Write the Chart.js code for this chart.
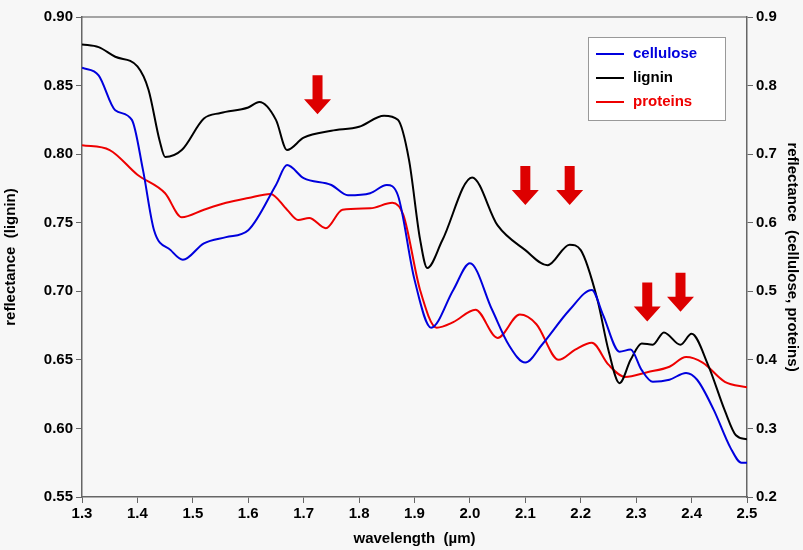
<!DOCTYPE html>
<html>
<head>
<meta charset="utf-8">
<script src="https://cdn.jsdelivr.net/npm/chart.js@4"></script>
<style>
  html, body { margin: 0; padding: 0; background: #fff; }
  #wrap { width: 803px; height: 550px; }
</style>
</head>
<body>
<div id="wrap"><canvas id="chart"></canvas></div>
<script>
// lignin on the left axis, cellulose + proteins on the right axis
const ligninX = [1.30,1.33,1.36,1.40,1.42,1.44,1.45,1.48,1.52,1.55,1.60,1.62,1.65,1.67,1.70,1.75,1.80,1.845,1.87,1.89,1.91,1.923,1.95,2.004,2.05,2.10,2.14,2.18,2.20,2.23,2.25,2.27,2.29,2.31,2.33,2.35,2.38,2.40,2.43,2.46,2.48,2.50];
const ligninY = [0.880,0.878,0.871,0.864,0.847,0.810,0.798,0.803,0.826,0.830,0.834,0.838,0.825,0.803,0.812,0.817,0.820,0.828,0.825,0.796,0.738,0.717,0.737,0.783,0.748,0.730,0.719,0.734,0.730,0.694,0.657,0.633,0.650,0.662,0.661,0.670,0.661,0.669,0.646,0.613,0.595,0.592];

const celluloseX = [1.30,1.33,1.36,1.39,1.41,1.43,1.46,1.482,1.52,1.56,1.60,1.65,1.67,1.70,1.75,1.78,1.82,1.85,1.87,1.90,1.93,1.97,2.00,2.04,2.07,2.10,2.13,2.18,2.22,2.24,2.27,2.29,2.31,2.33,2.36,2.39,2.41,2.44,2.47,2.49,2.50];
const celluloseY = [0.826,0.815,0.764,0.750,0.677,0.589,0.560,0.546,0.570,0.579,0.589,0.655,0.684,0.665,0.655,0.640,0.643,0.655,0.640,0.517,0.447,0.502,0.541,0.473,0.422,0.396,0.422,0.473,0.502,0.466,0.412,0.415,0.385,0.368,0.371,0.381,0.371,0.327,0.272,0.250,0.250];

const proteinsX = [1.30,1.35,1.40,1.45,1.48,1.52,1.56,1.60,1.64,1.67,1.69,1.71,1.74,1.77,1.82,1.86,1.88,1.91,1.94,1.97,2.01,2.05,2.09,2.12,2.16,2.19,2.22,2.25,2.28,2.32,2.36,2.39,2.42,2.46,2.50];
const proteinsY = [0.713,0.706,0.670,0.643,0.608,0.619,0.629,0.636,0.642,0.619,0.604,0.607,0.592,0.619,0.621,0.629,0.611,0.502,0.447,0.455,0.473,0.432,0.466,0.452,0.400,0.415,0.425,0.393,0.375,0.382,0.390,0.404,0.396,0.368,0.360];

// red arrows: wavelength and tip height (lignin axis units)
const arrowX = [1.725, 2.10, 2.18, 2.32, 2.38];
const arrowY = [0.829, 0.763, 0.763, 0.678, 0.685];

const seriesNames = ['cellulose', 'lignin', 'proteins'];
const seriesColors = ['#0000dd', '#000000', '#ee0000'];

const pts = (xs, ys) => xs.map((x, i) => ({ x, y: ys[i] }));
const FONT = 'bold 15px "Liberation Sans", Arial, sans-serif';

const decor = {
  id: 'decor',
  beforeDraw(chart) {
    const { ctx, chartArea: a } = chart;
    ctx.save();
    ctx.fillStyle = '#f7f7f7';
    ctx.fillRect(0, 0, chart.width, chart.height);
    ctx.strokeStyle = '#888';
    ctx.lineWidth = 1.5;
    ctx.beginPath();
    ctx.moveTo(a.left, a.top); ctx.lineTo(a.right, a.top);
    ctx.stroke();
    ctx.restore();
  },
  afterDatasetsDraw(chart) {
    const { ctx } = chart;
    const xs = chart.scales.x, ys = chart.scales.y;
    ctx.save();
    ctx.fillStyle = '#dd0000';
    arrowX.forEach((w, i) => {
      const px = xs.getPixelForValue(w), tip = ys.getPixelForValue(arrowY[i]);
      ctx.beginPath();
      ctx.moveTo(px - 5, tip - 39);
      ctx.lineTo(px + 5, tip - 39);
      ctx.lineTo(px + 5, tip - 15);
      ctx.lineTo(px + 13.5, tip - 15);
      ctx.lineTo(px, tip);
      ctx.lineTo(px - 13.5, tip - 15);
      ctx.lineTo(px - 5, tip - 15);
      ctx.closePath();
      ctx.fill();
    });
    // legend box
    const lx = 588, ly = 37, lw = 137, lh = 83;
    ctx.fillStyle = '#fff';
    ctx.fillRect(lx, ly, lw, lh);
    ctx.strokeStyle = '#999';
    ctx.lineWidth = 1;
    ctx.strokeRect(lx + 0.5, ly + 0.5, lw, lh);
    ctx.font = FONT;
    ctx.textBaseline = 'middle';
    seriesNames.forEach((n, i) => {
      const y = ly + 17 + i * 24;
      ctx.strokeStyle = seriesColors[i];
      ctx.lineWidth = 2;
      ctx.beginPath(); ctx.moveTo(lx + 8, y); ctx.lineTo(lx + 36, y); ctx.stroke();
      ctx.fillStyle = seriesColors[i];
      ctx.fillText(n, lx + 45, y);
    });
    ctx.restore();
  }
};

const axisTitle = (text) => ({ display: true, text, color: '#000', font: { size: 15, weight: 'bold', family: '"Liberation Sans", Arial, sans-serif' }, padding: 2 });
const tickFont = { size: 15, weight: 'bold', family: '"Liberation Sans", Arial, sans-serif' };

new Chart(document.getElementById('chart'), {
  type: 'line',
  data: {
    datasets: [
      { label: 'cellulose', data: pts(celluloseX, celluloseY), yAxisID: 'y2', borderColor: seriesColors[0] },
      { label: 'lignin', data: pts(ligninX, ligninY), yAxisID: 'y', borderColor: seriesColors[1] },
      { label: 'proteins', data: pts(proteinsX, proteinsY), yAxisID: 'y2', borderColor: seriesColors[2] }
    ].map(d => Object.assign(d, { borderWidth: 2, pointRadius: 0, tension: 0.4, cubicInterpolationMode: 'monotone', fill: false }))
  },
  options: {
    responsive: true,
    maintainAspectRatio: false,
    animation: false,
    layout: { padding: { top: 17, left: 0, right: 0, bottom: 0 } },
    plugins: { legend: { display: false }, tooltip: { enabled: false } },
    scales: {
      x: {
        type: 'linear', min: 1.3, max: 2.5,
        ticks: { stepSize: 0.1, color: '#000', font: tickFont, padding: 2, callback: v => v.toFixed(1) },
        grid: { drawOnChartArea: false, color: '#666', tickLength: 6 },
        border: { color: '#666', width: 1.5 },
        title: axisTitle('wavelength  (µm)'),
        afterFit: s => { s.height = 53; }
      },
      y: {
        position: 'left', min: 0.55, max: 0.90,
        ticks: { stepSize: 0.05, color: '#000', font: tickFont, padding: 3, callback: v => v.toFixed(2) },
        grid: { drawOnChartArea: false, color: '#666', tickLength: 6 },
        border: { color: '#666', width: 1.5 },
        title: axisTitle('reflectance  (lignin)'),
        afterFit: s => { s.width = 82; }
      },
      y2: {
        position: 'right', min: 0.2, max: 0.9,
        ticks: { stepSize: 0.1, color: '#000', font: tickFont, padding: 3, callback: v => v.toFixed(1) },
        grid: { drawOnChartArea: false, color: '#666', tickLength: 6 },
        border: { color: '#666', width: 1.5 },
        title: axisTitle('reflectance  (cellulose, proteins)'),
        afterFit: s => { s.width = 56; }
      }
    }
  },
  plugins: [decor]
});
</script>
</body>
</html>
